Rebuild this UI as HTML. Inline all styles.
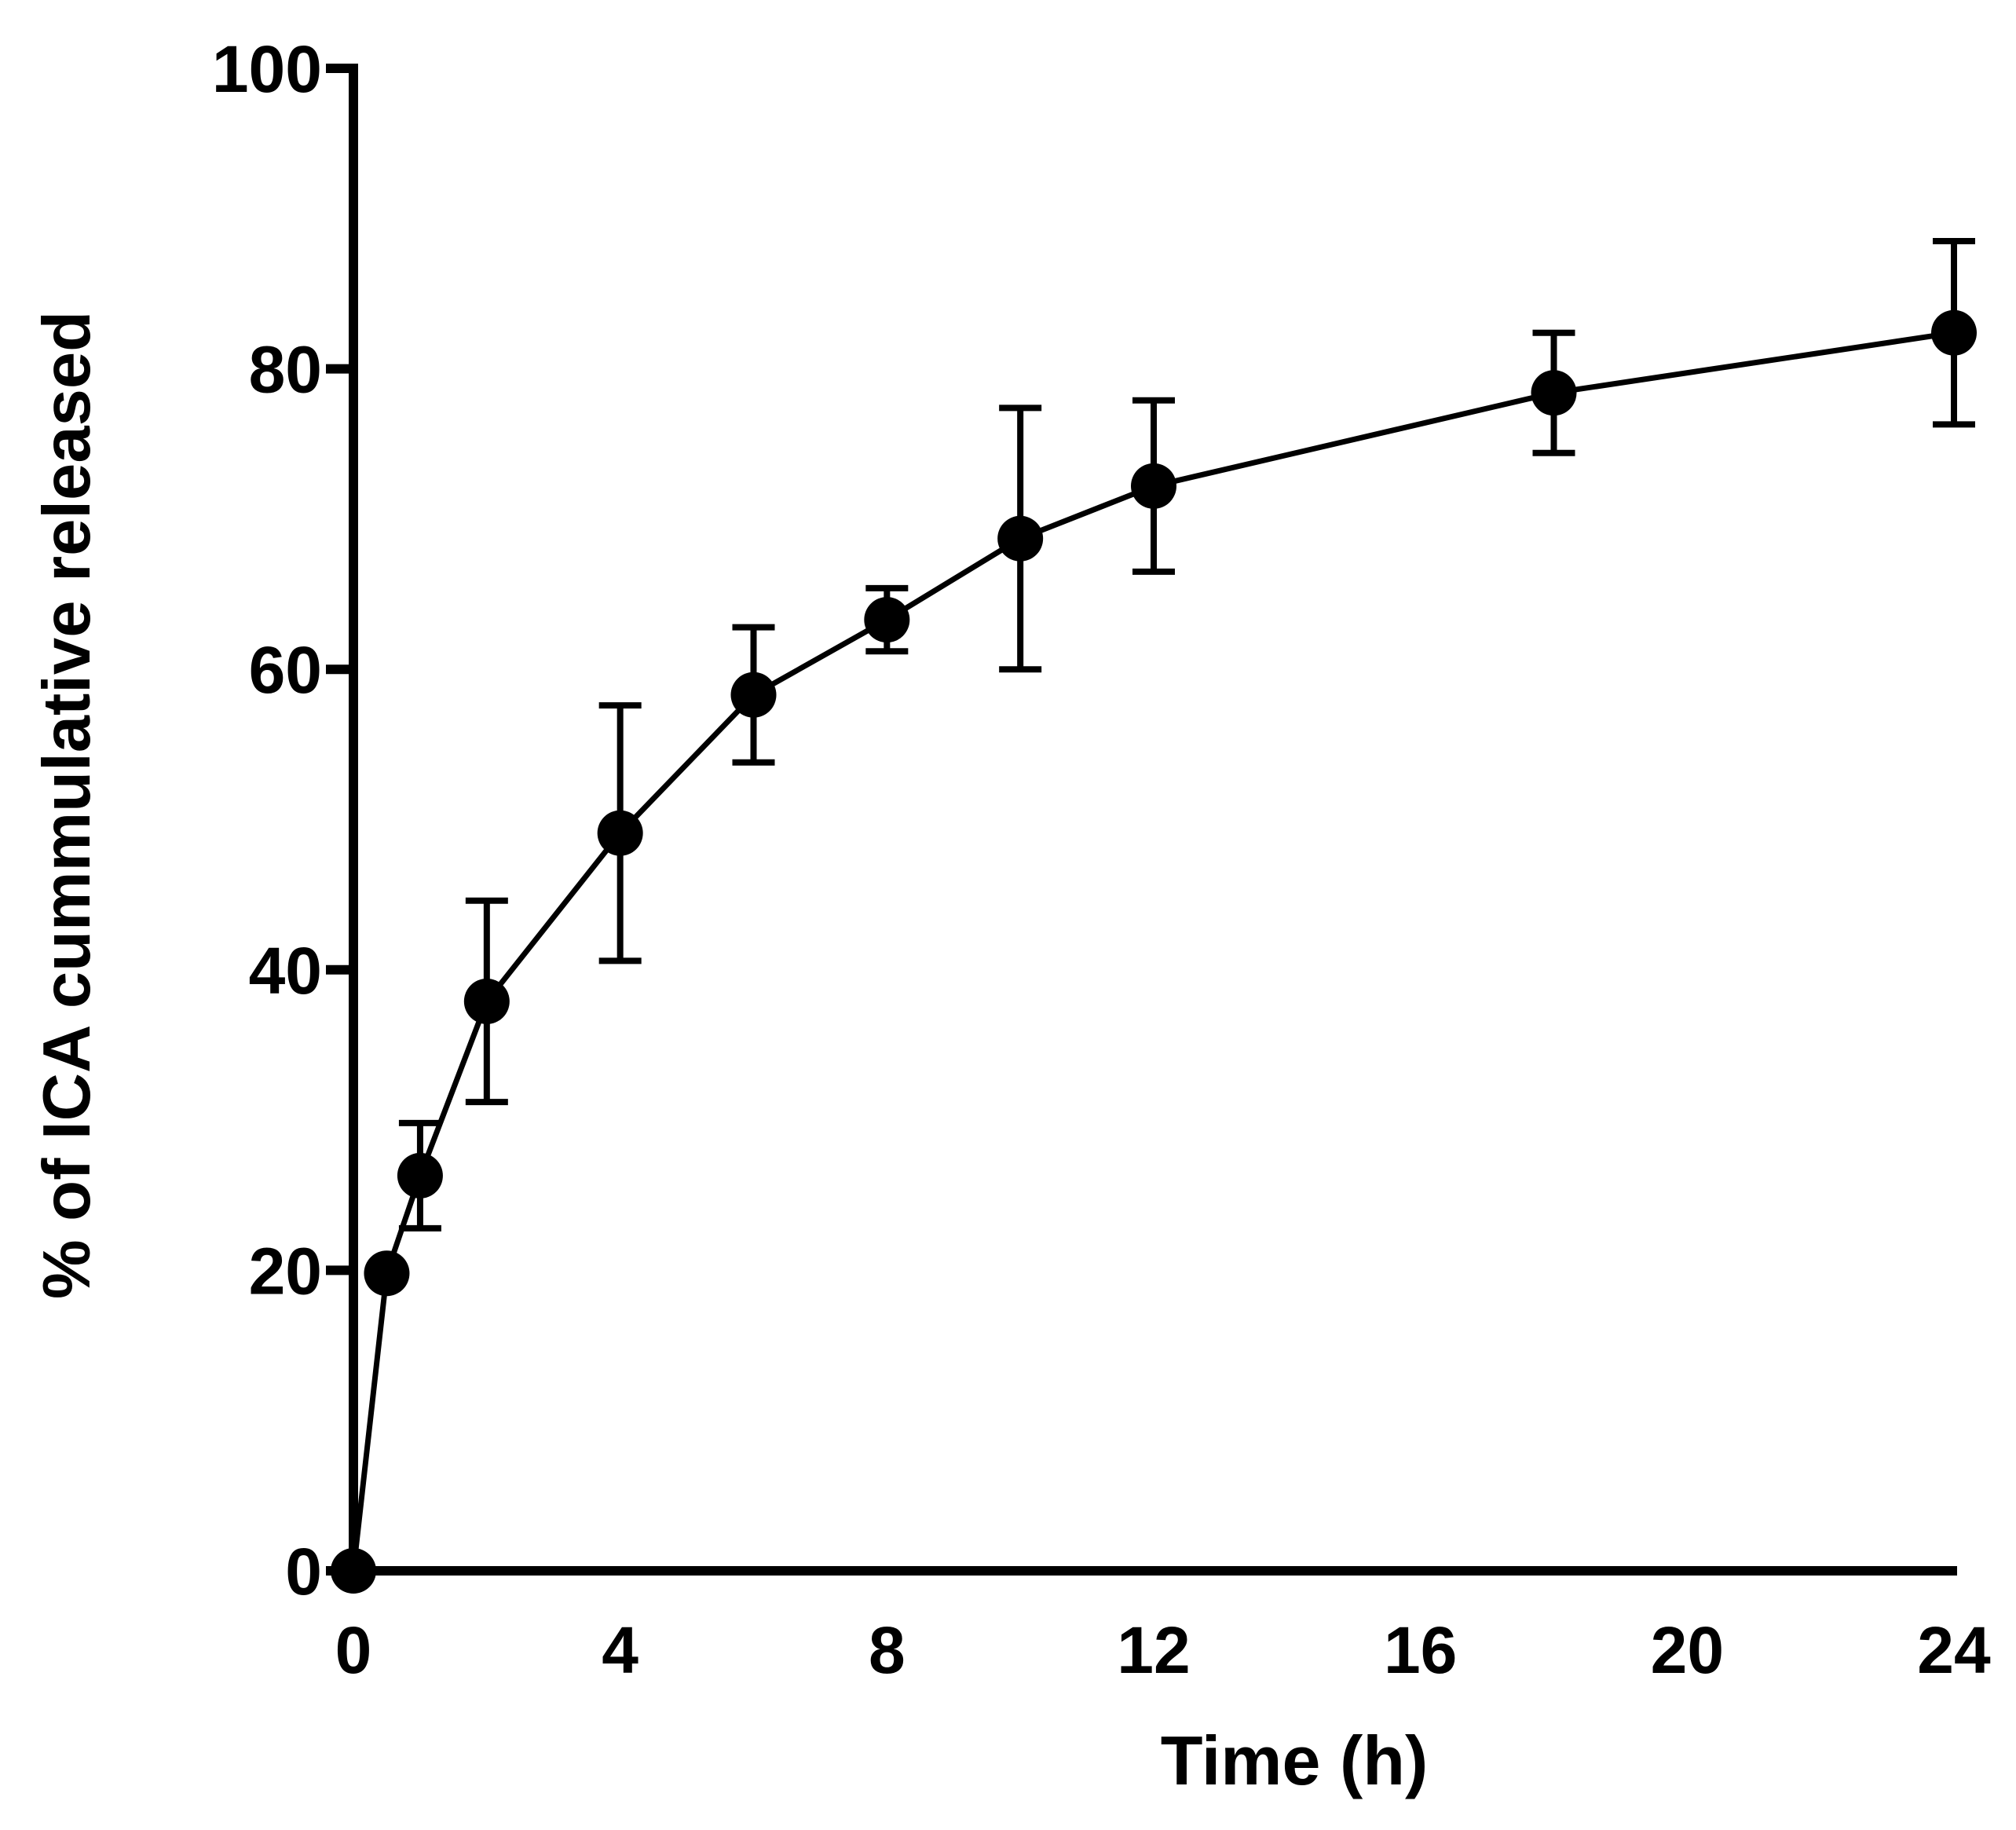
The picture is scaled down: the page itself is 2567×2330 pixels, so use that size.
<!DOCTYPE html>
<html><head><meta charset="utf-8"><style>
html,body{margin:0;padding:0;background:#fff;}
svg{display:block;}
text{font-family:"Liberation Sans",Arial,sans-serif;font-weight:bold;fill:#000;}
</style></head><body>
<svg id="chart" width="2567" height="2330" viewBox="0 0 2567 2330" xmlns="http://www.w3.org/2000/svg">
<g id="axes"></g>
<g id="series"></g>
<text x="1648" y="2272" font-size="88" text-anchor="middle">Time (h)</text>
<text transform="translate(114,1025) rotate(-90)" font-size="85" text-anchor="middle">% of  ICA cummulative released</text>
</svg>
<script>
const times = [0, 0.5, 1, 2, 4, 6, 8, 10, 12, 18, 24];
const released = [0, 19.8, 26.3, 37.9, 49.1, 58.3, 63.3, 68.7, 72.2, 78.4, 82.4];
const errors = [0, 0, 3.5, 6.7, 8.5, 4.5, 2.1, 8.7, 5.7, 4.0, 6.1];
const yTicks = [0, 20, 40, 60, 80, 100];
const xTicks = [0, 4, 8, 12, 16, 20, 24];

const NS = 'http://www.w3.org/2000/svg';
const X0 = 450, X1 = 2488, Y0 = 2000, Y1 = 87;
function sx(v){ return X0 + (v - 0) / 24 * (X1 - X0); }
function sy(v){ return Y0 - v / 100 * (Y0 - Y1); }
function mk(tag, attrs, parent){ const e = document.createElementNS(NS, tag); for (const k in attrs) e.setAttribute(k, attrs[k]); parent.appendChild(e); return e; }

const axes = document.getElementById('axes');
const yAxis = mk('line', {x1: X0, y1: sy(100) - 6, x2: X0, y2: Y0 + 6, stroke: '#000', 'stroke-width': 12}, axes);


const xAxis = mk('line', {x1: X0 - 30, y1: Y0, x2: X1 + 4, y2: Y0, stroke: '#000', 'stroke-width': 12}, axes);



yTicks.forEach(t => {
  const tk = mk('line', {x1: X0 - 35, y1: sy(t), x2: X0, y2: sy(t), stroke: '#000', 'stroke-width': 12}, axes);
  
  
  const lb = mk('text', {x: 410, y: sy(t) + 30, 'font-size': 84, 'text-anchor': 'end'}, axes);
  lb.textContent = String(t);
  
  
});
xTicks.forEach(t => {
  const lb = mk('text', {x: sx(t), y: 2130, 'font-size': 84, 'text-anchor': 'middle'}, axes);
  lb.textContent = String(t);
  
  
});

const series = document.getElementById('series');
const pts = times.map((t, i) => sx(t) + ',' + sy(released[i])).join(' ');
const line = mk('polyline', {points: pts, fill: 'none', stroke: '#000', 'stroke-width': 7}, series);



times.forEach((t, i) => {
  const x = sx(t), e = errors[i];
  if (e > 0) {
    const g = mk('g', {stroke: '#000', 'stroke-width': 8, fill: 'none'}, series);
    
    
    mk('line', {x1: x, y1: sy(released[i] + e), x2: x, y2: sy(released[i] - e)}, g);
    mk('line', {x1: x - 27, y1: sy(released[i] + e), x2: x + 27, y2: sy(released[i] + e)}, g);
    mk('line', {x1: x - 27, y1: sy(released[i] - e), x2: x + 27, y2: sy(released[i] - e)}, g);
  }
});
times.forEach((t, i) => {
  const c = mk('circle', {cx: sx(t), cy: sy(released[i]), r: 29, fill: '#000'}, series);
  
  
});
</script>
</body></html>
